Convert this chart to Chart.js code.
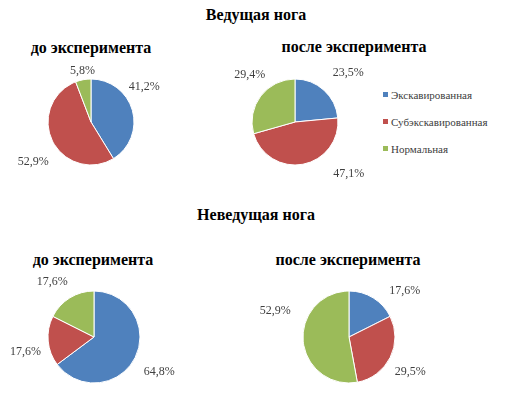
<!DOCTYPE html>
<html>
<head>
<meta charset="utf-8">
<script src="https://cdn.jsdelivr.net/npm/chart.js@4"></script>
<style>
  body { margin: 0; background: #fff; width: 516px; height: 400px; overflow: hidden; position: relative; }
  .title { position: absolute; font-weight: bold; color: #000; white-space: nowrap; transform: translate(-50%, -50%); }
  canvas { position: absolute; }
  #legend { position: absolute; left: 383px; top: 88px; color: #404040; }
  #legend div { height: 27px; line-height: 14px; white-space: nowrap; }
  #legend span { display: inline-block; width: 5px; height: 5px; margin-right: 3px; vertical-align: 2px; }
</style>
</head>
<body>
<div class="title" style="font-family:'Liberation Serif';font-size:16px;left:256px;top:15px">Ведущая нога</div>
<div class="title" style="font-family:'Liberation Serif';font-size:16px;left:91px;top:48px">до эксперимента</div>
<div class="title" style="font-family:'Liberation Serif';font-size:16px;left:354px;top:47px">после эксперимента</div>
<div class="title" style="font-family:'Liberation Serif';font-size:16px;left:256px;top:215px">Неведущая нога</div>
<div class="title" style="font-family:'Liberation Serif';font-size:16px;left:93px;top:260px">до эксперимента</div>
<div class="title" style="font-family:'Liberation Serif';font-size:16px;left:348px;top:260px">после эксперимента</div>
<div id="legend" style="font-family:'Liberation Serif';font-size:11px"></div>

<canvas id="c1" width="200" height="140"></canvas>
<canvas id="c2" width="200" height="140"></canvas>
<canvas id="c3" width="200" height="140"></canvas>
<canvas id="c4" width="200" height="140"></canvas>

<script>
// categories
const categories = ['Экскавированная', 'Субэкскавированная', 'Нормальная'];
// series values, % (Ведущая нога / Неведущая нога, до и после)
const leadBefore = [41.2, 52.9, 5.8];
const leadAfter = [23.5, 47.1, 29.4];
const nonLeadBefore = [64.8, 17.6, 17.6];
const nonLeadAfter = [17.6, 29.5, 52.9];

const COLORS = ['#4F81BD', '#C0504D', '#9BBB59'];

Chart.defaults.font.family = "'Liberation Serif'";

// pie placement on the page; label nudges: angle (deg) and extra distance (px)
const charts = [
  {id: 'c1', values: leadBefore,    cx: 91,  cy: 122, r: 43, shift: [-22, -12, 2],  extra: [-1, 5, -7]},
  {id: 'c2', values: leadAfter,     cx: 295, cy: 122, r: 43, shift: [1, -32, 13],   extra: [9, 11, 2]},
  {id: 'c3', values: nonLeadBefore, cx: 94,  cy: 337, r: 46, shift: [5, -9, -2],    extra: [5, -1, 4]},
  {id: 'c4', values: nonLeadAfter,  cx: 349, cy: 337, r: 46, shift: [15, 7, 27],    extra: [5, 2, 8]},
];

const legend = document.getElementById('legend');
categories.forEach(function(name, i) {
  const row = document.createElement('div');
  row.innerHTML = '<span style="background:' + COLORS[i] + '"></span>' + name;
  legend.appendChild(row);
});

const outsideLabels = {
  id: 'outsideLabels',
  afterDatasetsDraw(chart) {
    const {ctx} = chart;
    const opts = chart.options.plugins.outsideLabels;
    const meta = chart.getDatasetMeta(0);
    const values = chart.data.datasets[0].data;
    ctx.save();
    ctx.font = "12px 'Liberation Serif'";
    ctx.fillStyle = '#404040';
    ctx.textAlign = 'center';
    ctx.textBaseline = 'middle';
    meta.data.forEach(function(arc, i) {
      const p = arc.getProps(['x', 'y', 'startAngle', 'endAngle', 'outerRadius'], true);
      const mid = (p.startAngle + p.endAngle) / 2 + opts.shift[i] * Math.PI / 180;
      const dx = Math.cos(mid), dy = Math.sin(mid);
      const text = values[i].toFixed(1).replace('.', ',') + '%';
      const w = ctx.measureText(text).width;
      const d = p.outerRadius + 10 + opts.extra[i];
      ctx.fillText(text, p.x + dx * d + dx * w / 2, p.y + dy * d + dy * 6);
    });
    ctx.restore();
  }
};

charts.forEach(function(c) {
  const canvas = document.getElementById(c.id);
  canvas.style.left = (c.cx - 100) + 'px';
  canvas.style.top = (c.cy - 70) + 'px';
  const size = 2 * c.r + 1;
  new Chart(canvas, {
    type: 'pie',
    data: {
      labels: categories,
      datasets: [{
        data: c.values,
        backgroundColor: COLORS,
        borderColor: '#ffffff',
        borderWidth: 1
      }]
    },
    options: {
      responsive: false,
      animation: false,
      devicePixelRatio: 1,
      layout: {
        padding: {
          left: (200 - size) / 2, right: (200 - size) / 2,
          top: (140 - size) / 2, bottom: (140 - size) / 2
        }
      },
      plugins: {
        legend: {display: false},
        tooltip: {enabled: false},
        outsideLabels: {shift: c.shift, extra: c.extra}
      }
    },
    plugins: [outsideLabels]
  });
});
</script>
</body>
</html>
